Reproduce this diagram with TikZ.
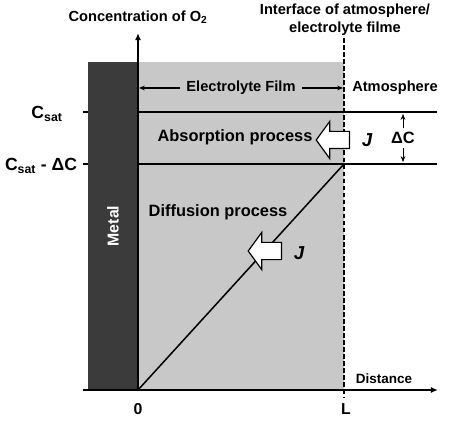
\documentclass[tikz,border=0pt]{standalone}
\usepackage{fontspec}
\setmainfont{Liberation Sans}
\usetikzlibrary{shapes.arrows, arrows.meta}
\definecolor{metalgray}{HTML}{3B3B3B}
\definecolor{filmgray}{HTML}{C8C8C8}
\begin{document}
\begin{tikzpicture}[
    x=0.03cm, y=-0.03cm,
    font=\bfseries\fontsize{12.5}{15}\selectfont,
    big/.style={font=\bfseries\fontsize{14}{16}\selectfont},
    axis/.style={line width=1.3pt, -{Latex[length=6pt,width=5pt]}},
    level/.style={line width=1.3pt},
    flux/.style={single arrow, draw=black, line width=1pt, fill=white, shape border rotate=180, inner sep=0.24cm, minimum height=1cm, single arrow head extend=0.3cm, single arrow tip angle=108},
    fluxlabel/.style={font=\bfseries\itshape\fontsize{16}{18}\selectfont},
    dim/.style={line width=0.6pt, -{Stealth[length=5pt,width=4pt]}}
]
\useasboundingbox (0,0) rectangle (450,428);

% Regions
\fill[metalgray] (88,62) rectangle (138,390);
\fill[filmgray] (138,62) rectangle (344,390);
\node[rotate=90, text=white, font=\bfseries\fontsize{13.5}{15}\selectfont] (metal) at (113,226) {Metal};

% Key points
\coordinate (origin) at (138,390);
\coordinate (ytop) at (138,33);
\coordinate (xleft) at (83,390);
\coordinate (xright) at (438,390);
\coordinate (ifacetop) at (344,38);
\coordinate (ifacebot) at (344,398);
\coordinate (satL) at (138,112);
\coordinate (satR) at (437,112);
\coordinate (lowL) at (138,164);
\coordinate (lowR) at (437,164);
\coordinate (surface) at (344,164);

% Axes
\draw[axis] (xleft) -- (xright);
\draw[axis] (origin) -- (ytop);
\draw[line width=1pt, dash pattern=on 4pt off 2pt] (ifacetop) -- (ifacebot);

% Concentration levels
\draw[level] (satL) -- (satR);
\draw[level] (lowL) -- (lowR);
\draw[level] (83,112) -- (88,112);
\draw[level] (83,164) -- (88,164);
\draw[level] (origin) -- (surface);

% Labels
\node (conc) at (138,17) {Concentration of O\textsubscript{2}};
\node[align=center] (iface) at (345,20) {Interface of atmosphere/\\electrolyte filme};
\node[fill=filmgray, inner xsep=0.2cm] (film) at (241,88) {Electrolyte Film};
\draw[dim, line width=1pt] (film) -- (139,88);
\draw[dim, line width=1pt] (film) -- (343,88);
\node (atmo) at (395,88) {Atmosphere};
\node[font=\bfseries\fontsize{15}{17}\selectfont] (csat) at (47,114) {C\textsubscript{sat}};
\node[font=\bfseries\fontsize{15}{17}\selectfont] (csatdc) at (41,166) {C\textsubscript{sat} - ΔC};
\node[big] (dc) at (403,138) {ΔC};
\draw[dim] (dc) -- (403,114);
\draw[dim] (dc) -- (403,162);
\node[font=\bfseries\fontsize{13.5}{15}\selectfont] (zero) at (138,409) {0};
\node[font=\bfseries\fontsize{13.5}{15}\selectfont] (ell) at (346,409) {L};
\node[font=\bfseries\fontsize{11.5}{13}\selectfont] (dist) at (384,379) {Distance};

% Processes and fluxes
\node[big] (absorb) at (235,137) {Absorption process};
\node[flux] (fluxtop) at (336,140) {};
\node[fluxlabel] (jtop) at (367,140) {J};
\node[big] (diffuse) at (218,212) {Diffusion process};
\node[flux] (fluxmid) at (268,251) {};
\node[fluxlabel] (jmid) at (299,253) {J};

\end{tikzpicture}
\end{document}
